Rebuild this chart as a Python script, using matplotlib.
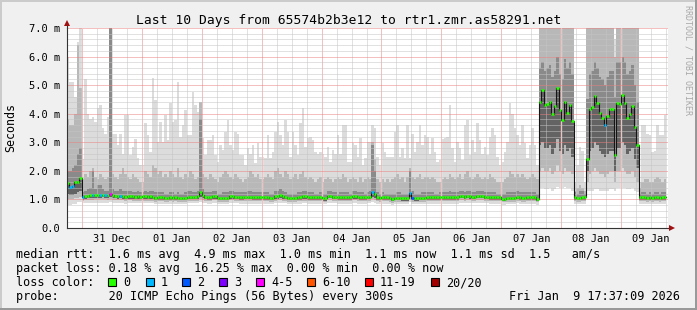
import numpy as np
import matplotlib
matplotlib.use("Agg")
import matplotlib.pyplot as plt
from matplotlib.patches import Rectangle
from matplotlib.transforms import ScaledTranslation

plt.rcParams['font.family'] = ['DejaVu Sans Mono']
plt.rcParams['lines.scale_dashes'] = False

# hourly rows, first row = Dec 30 18:00 (hour -6, hour 0 = Dec 31 00:00)
first_hour = -6

rtt_median = [
    1.56, 1.45, 1.47, 1.60, 1.62, 1.76,
    1.07, 1.12, 1.13, 1.14, 1.14, 1.15, 1.15, 1.15, 1.16, 1.15, 1.14, 1.18, 1.14, 1.13, 1.12, 1.13, 1.12, 1.08, 1.12, 1.12, 1.11, 1.10, 1.11, 1.10,
    1.11, 1.11, 1.10, 1.11, 1.10, 1.06, 1.08, 1.07, 1.07, 1.06, 1.05, 1.07, 1.06, 1.07, 1.06, 1.06, 1.05, 1.06, 1.10, 1.10, 1.10, 1.10, 1.11, 1.26,
    1.15, 1.10, 1.08, 1.08, 1.12, 1.12, 1.06, 1.06, 1.06, 1.06, 1.06, 1.12, 1.12, 1.10, 1.10, 1.08, 1.08, 1.09, 1.09, 1.09, 1.08, 1.08, 1.08, 1.08,
    1.08, 1.08, 1.08, 1.06, 1.06, 1.11, 1.12, 1.15, 1.11, 1.10, 1.06, 1.06, 1.06, 1.06, 1.08, 1.08, 1.11, 1.11, 1.07, 1.07, 1.07, 1.07, 1.07, 1.07,
    1.04, 1.04, 1.13, 1.13, 1.10, 1.10, 1.07, 1.07, 1.08, 1.08, 1.08, 1.08, 1.12, 1.12, 1.09, 1.08, 1.08, 1.08, 1.10, 1.10, 1.27, 1.18, 1.07, 1.06,
    1.07, 1.07, 1.07, 1.06, 1.02, 1.05, 1.06, 1.06, 1.04, 1.04, 1.04, 1.22, 1.06, 1.04, 1.04, 1.05, 1.06, 1.06, 1.07, 1.07, 1.07, 1.07, 1.07, 1.07,
    1.07, 1.08, 1.08, 1.08, 1.08, 1.08, 1.08, 1.13, 1.13, 1.10, 1.13, 1.12, 1.10, 1.10, 1.13, 1.13, 1.13, 1.10, 1.10, 1.08, 1.08, 1.08, 1.08, 1.08,
    1.03, 1.03, 1.05, 1.05, 1.05, 1.05, 1.10, 1.08, 1.06, 1.06, 1.07, 1.07, 1.07, 1.07, 1.03, 4.42, 4.83, 4.30, 4.34, 4.40, 3.99, 4.28, 4.89, 4.13,
    3.78, 4.42, 4.04, 4.30, 3.75, 1.07, 1.05, 1.05, 1.07, 1.07, 2.42, 4.16, 4.25, 4.63, 4.38, 4.03, 3.86, 3.62, 3.93, 4.16, 4.16, 2.56, 4.36, 4.34,
    4.66, 4.38, 3.86, 4.00, 4.28, 3.55, 2.90, 1.07, 1.07, 1.07, 1.06, 1.07, 1.05, 1.07, 1.07, 1.05, 1.07, 1.07,
]

rtt_max = [
    6.0, 5.1, 5.1, 4.6, 6.5, 7.5,
    2.4, 5.2, 4.0, 3.8, 3.9, 3.7, 4.2, 4.3, 3.5, 3.3, 3.9, 7.5, 3.3, 3.3, 2.9, 3.3, 2.6, 3.95, 3.95, 2.55, 2.85, 3.1, 2.44, 2.2,
    2.2, 3.66, 3.26, 2.67, 5.24, 4.48, 3.0, 3.72, 3.0, 3.95, 3.08, 4.36, 3.72, 3.78, 5.12, 3.2, 3.6, 4.13, 3.26, 3.26, 4.77, 4.3, 4.07, 4.19,
    3.14, 2.55, 3.08, 3.08, 3.26, 2.55, 2.32, 2.9, 2.73, 3.37, 3.78, 2.9, 2.73, 3.37, 3.3, 2.55, 2.55, 2.2, 2.8, 2.6, 2.9, 2.26, 2.96, 2.5,
    2.5, 2.44, 3.26, 2.44, 2.67, 3.37, 3.72, 3.26, 2.9, 3.78, 3.37, 2.5, 3.37, 2.9, 2.55, 3.66, 4.19, 2.85, 3.14, 3.2, 3.08, 2.67, 2.6, 2.67,
    2.6, 2.5, 2.85, 2.32, 2.73, 2.6, 3.26, 2.6, 3.6, 3.6, 2.32, 2.32, 2.96, 2.9, 2.5, 3.14, 2.2, 2.44, 3.0, 3.0, 3.6, 3.5, 2.5, 2.2,
    2.96, 2.67, 2.5, 2.5, 2.5, 3.37, 3.6, 2.5, 2.8, 2.44, 3.6, 2.44, 3.3, 2.67, 3.0, 3.6, 2.9, 3.26, 3.2, 2.6, 3.14, 2.67, 2.32, 2.38,
    3.1, 3.14, 3.2, 4.3, 2.8, 2.32, 3.0, 2.8, 2.38, 3.6, 3.78, 2.55, 3.08, 2.67, 3.66, 3.08, 2.6, 2.85, 2.55, 3.2, 3.5, 3.26, 2.5, 2.2,
    2.32, 2.67, 3.0, 4.36, 4.0, 3.5, 3.26, 2.9, 3.6, 2.96, 2.44, 2.9, 3.5, 2.9, 2.2, 7.5, 7.5, 7.5, 7.5, 7.5, 7.5, 7.5, 7.5, 7.5,
    7.5, 7.5, 7.5, 7.5, 7.5, 1.6, 2.2, 2.85, 2.7, 1.6, 7.5, 7.5, 7.5, 7.5, 7.5, 7.5, 7.5, 7.5, 7.5, 7.5, 7.5, 6.6, 7.5, 7.5,
    7.5, 7.5, 7.5, 7.5, 7.5, 7.5, 7.5, 1.6, 3.6, 3.6, 3.3, 3.26, 2.67, 2.7, 3.6, 3.26, 3.26, 3.95,
]

rtt_p90 = [
    3.8, 3.6, 3.6, 4.0, 6.4, 4.9,
    1.7, 1.9, 1.8, 2.0, 2.1, 1.8, 1.7, 1.9, 1.8, 1.7, 1.8, 7.5, 1.9, 1.8, 1.7, 1.9, 2.1, 1.9, 1.8, 1.7, 1.9, 1.8, 1.7, 1.6,
    1.6, 2.0, 1.9, 1.8, 2.2, 2.1, 1.9, 2.0, 1.8, 1.9, 1.8, 2.0, 1.9, 1.8, 2.1, 1.8, 1.7, 1.9, 1.8, 2.0, 1.9, 1.7, 1.8, 4.4,
    1.9, 1.8, 1.7, 1.9, 1.8, 1.7, 1.6, 1.8, 1.9, 2.0, 1.9, 1.8, 1.7, 1.9, 1.8, 1.7, 1.6, 1.7, 1.8, 2.0, 1.9, 1.8, 1.9, 1.7,
    1.7, 1.8, 1.9, 1.8, 1.7, 2.0, 2.1, 1.9, 1.8, 2.0, 1.9, 1.7, 1.8, 1.9, 1.7, 1.9, 2.0, 1.8, 1.7, 1.8, 1.7, 1.6, 1.7, 1.8,
    1.6, 1.7, 1.8, 1.7, 1.6, 1.7, 1.8, 1.7, 1.9, 1.8, 1.6, 1.7, 1.8, 1.7, 1.6, 1.8, 1.6, 1.7, 1.8, 1.7, 3.0, 2.4, 1.7, 1.6,
    1.7, 1.6, 1.7, 1.6, 1.7, 1.8, 1.9, 1.7, 1.8, 1.6, 1.8, 2.1, 1.8, 1.7, 1.8, 1.9, 1.7, 1.8, 1.8, 1.7, 1.8, 1.7, 1.6, 1.6,
    1.7, 1.8, 1.7, 1.9, 1.8, 1.7, 1.8, 1.9, 1.7, 1.9, 2.0, 1.8, 1.7, 1.8, 1.9, 1.8, 1.7, 1.8, 1.7, 1.9, 1.8, 1.7, 1.6, 1.6,
    1.6, 1.7, 1.8, 2.0, 1.9, 1.8, 1.9, 1.8, 1.9, 1.8, 1.7, 1.8, 1.9, 1.8, 1.7, 7.5, 7.5, 7.5, 7.5, 7.5, 7.5, 7.5, 7.5, 7.5,
    7.5, 7.5, 7.5, 7.5, 7.5, 1.3, 1.4, 1.5, 1.4, 1.3, 7.5, 7.5, 7.5, 7.5, 7.5, 7.5, 7.5, 7.5, 7.5, 7.5, 7.5, 6.0, 7.5, 7.5,
    7.5, 7.5, 7.5, 7.5, 7.5, 7.5, 7.5, 1.4, 1.6, 1.7, 1.7, 1.6, 1.6, 1.7, 1.8, 1.7, 1.6, 1.7,
]

rtt_p75 = [
    2.0, 2.0, 2.1, 2.2, 2.6, 2.8,
    1.25, 1.3, 1.35, 1.4, 2.0, 1.35, 1.5, 1.5, 1.35, 1.3, 1.3, 7.5, 1.35, 1.3, 1.3, 1.35, 1.3, 1.3, 1.3, 1.3, 1.25, 1.25, 1.3, 1.25,
    1.25, 1.3, 1.25, 1.3, 1.3, 1.25, 1.25, 1.25, 1.25, 1.2, 1.2, 1.25, 1.25, 1.2, 1.25, 1.2, 1.2, 1.25, 1.3, 1.3, 1.25, 1.25, 1.3, 3.8,
    1.35, 1.25, 1.25, 1.25, 1.3, 1.3, 1.2, 1.2, 1.25, 1.25, 1.25, 1.3, 1.3, 1.25, 1.25, 1.25, 1.25, 1.25, 1.3, 1.3, 1.25, 1.25, 1.25, 1.25,
    1.25, 1.25, 1.25, 1.2, 1.2, 1.3, 1.3, 1.35, 1.3, 1.25, 1.2, 1.2, 1.2, 1.2, 1.25, 1.25, 1.3, 1.3, 1.25, 1.25, 1.25, 1.2, 1.2, 1.25,
    1.2, 1.2, 1.3, 1.3, 1.25, 1.25, 1.2, 1.25, 1.25, 1.25, 1.25, 1.2, 1.3, 1.3, 1.25, 1.25, 1.25, 1.2, 1.25, 1.3, 2.9, 2.0, 1.25, 1.2,
    1.25, 1.2, 1.2, 1.2, 1.2, 1.2, 1.25, 1.25, 1.2, 1.2, 1.2, 2.0, 1.3, 1.2, 1.2, 1.2, 1.25, 1.25, 1.25, 1.25, 1.25, 1.2, 1.2, 1.25,
    1.25, 1.25, 1.25, 1.3, 1.25, 1.25, 1.25, 1.3, 1.3, 1.25, 1.3, 1.3, 1.25, 1.25, 1.3, 1.3, 1.3, 1.25, 1.25, 1.25, 1.25, 1.25, 1.2, 1.2,
    1.2, 1.2, 1.25, 1.25, 1.25, 1.25, 1.3, 1.25, 1.25, 1.25, 1.25, 1.25, 1.25, 1.25, 1.2, 5.6, 5.8, 5.5, 5.6, 5.7, 5.3, 5.5, 6.0, 5.4,
    5.2, 5.9, 5.6, 5.8, 5.4, 1.25, 1.2, 1.3, 1.3, 1.2, 4.5, 5.4, 5.5, 5.8, 5.6, 5.3, 5.2, 5.0, 5.3, 5.5, 5.5, 4.6, 5.8, 5.8,
    6.0, 5.8, 5.4, 5.5, 5.7, 5.0, 4.4, 1.2, 1.25, 1.25, 1.2, 1.25, 1.2, 1.25, 1.25, 1.2, 1.25, 1.25,
]

rtt_p25 = [
    1.2, 1.15, 1.15, 1.2, 1.25, 1.3,
    0.99, 1.03, 1.04, 1.05, 1.05, 1.06, 1.06, 1.06, 1.07, 1.06, 1.05, 1.08, 1.05, 1.04, 1.03, 1.04, 1.03, 1.0, 1.03, 1.03, 1.02, 1.01, 1.02, 1.01,
    1.02, 1.02, 1.01, 1.02, 1.01, 0.98, 0.99, 0.99, 0.99, 0.98, 0.97, 0.99, 0.98, 0.99, 0.98, 0.98, 0.97, 0.98, 1.01, 1.01, 1.01, 1.01, 1.02, 1.1,
    1.05, 1.01, 0.99, 0.99, 1.03, 1.03, 0.98, 0.98, 0.98, 0.98, 0.98, 1.03, 1.03, 1.01, 1.01, 0.99, 0.99, 1.0, 1.0, 1.0, 0.99, 0.99, 0.99, 0.99,
    0.99, 0.99, 0.99, 0.98, 0.98, 1.02, 1.03, 1.05, 1.02, 1.01, 0.98, 0.98, 0.98, 0.98, 0.99, 0.99, 1.02, 1.02, 0.99, 0.99, 0.99, 0.99, 0.99, 0.99,
    0.96, 0.96, 1.04, 1.04, 1.01, 1.01, 0.99, 0.99, 0.99, 0.99, 0.99, 0.99, 1.03, 1.03, 1.0, 0.99, 0.99, 0.99, 1.01, 1.01, 1.1, 1.05, 0.99, 0.98,
    0.99, 0.99, 0.99, 0.98, 0.95, 0.97, 0.98, 0.98, 0.96, 0.96, 0.96, 1.08, 0.98, 0.96, 0.96, 0.97, 0.98, 0.98, 0.99, 0.99, 0.99, 0.99, 0.99, 0.99,
    0.99, 0.99, 0.99, 0.99, 0.99, 0.99, 0.99, 1.04, 1.04, 1.01, 1.04, 1.03, 1.01, 1.01, 1.04, 1.04, 1.04, 1.01, 1.01, 0.99, 0.99, 0.99, 0.99, 0.99,
    0.95, 0.95, 0.97, 0.97, 0.97, 0.97, 1.01, 0.99, 0.98, 0.98, 0.99, 0.99, 0.99, 0.99, 0.95, 2.9, 3.0, 2.8, 2.8, 2.9, 2.6, 2.8, 3.1, 2.7,
    2.6, 2.9, 2.7, 2.8, 2.5, 0.99, 0.97, 0.97, 0.99, 0.99, 2.0, 2.7, 2.8, 3.0, 2.9, 2.7, 2.6, 2.5, 2.6, 2.7, 2.7, 2.0, 2.8, 2.8,
    3.0, 2.9, 2.6, 2.7, 2.8, 2.4, 2.1, 0.99, 0.99, 0.99, 0.98, 0.99, 0.97, 0.99, 0.99, 0.97, 0.99, 0.99,
]

rtt_p10 = [
    1.00, 1.00, 1.00, 1.05, 1.05, 1.10,
    0.94, 0.97, 0.98, 0.99, 0.99, 1.00, 1.00, 1.00, 1.01, 1.00, 0.99, 1.02, 0.99, 0.98, 0.97, 0.98, 0.97, 0.94, 0.97, 0.97, 0.96, 0.95, 0.96, 0.95,
    0.96, 0.96, 0.95, 0.96, 0.95, 0.92, 0.94, 0.93, 0.93, 0.92, 0.91, 0.93, 0.92, 0.93, 0.92, 0.92, 0.91, 0.92, 0.95, 0.95, 0.95, 0.95, 0.96, 1.02,
    0.99, 0.95, 0.94, 0.94, 0.97, 0.97, 0.92, 0.92, 0.92, 0.92, 0.92, 0.97, 0.97, 0.95, 0.95, 0.94, 0.94, 0.94, 0.94, 0.94, 0.94, 0.94, 0.94, 0.94,
    0.94, 0.94, 0.94, 0.92, 0.92, 0.96, 0.97, 0.99, 0.96, 0.95, 0.92, 0.92, 0.92, 0.92, 0.94, 0.94, 0.96, 0.96, 0.93, 0.93, 0.93, 0.93, 0.93, 0.93,
    0.90, 0.90, 0.98, 0.98, 0.95, 0.95, 0.93, 0.93, 0.94, 0.94, 0.94, 0.94, 0.97, 0.97, 0.95, 0.94, 0.94, 0.94, 0.95, 0.95, 1.02, 0.99, 0.93, 0.92,
    0.93, 0.93, 0.93, 0.92, 0.89, 0.91, 0.92, 0.92, 0.90, 0.90, 0.90, 1.00, 0.92, 0.90, 0.90, 0.91, 0.92, 0.92, 0.93, 0.93, 0.93, 0.93, 0.93, 0.93,
    0.93, 0.94, 0.94, 0.94, 0.94, 0.94, 0.94, 0.98, 0.98, 0.95, 0.98, 0.97, 0.95, 0.95, 0.98, 0.98, 0.98, 0.95, 0.95, 0.94, 0.94, 0.94, 0.94, 0.94,
    0.90, 0.90, 0.92, 0.92, 0.92, 0.92, 0.95, 0.94, 0.92, 0.92, 0.93, 0.93, 0.93, 0.93, 0.90, 2.00, 2.10, 2.00, 2.00, 2.10, 1.90, 2.00, 2.20, 2.00,
    1.90, 2.10, 2.00, 2.00, 1.90, 0.93, 0.92, 0.92, 0.93, 0.93, 1.60, 1.90, 2.00, 2.10, 2.00, 1.90, 1.90, 1.80, 1.90, 2.00, 2.00, 1.60, 2.00, 2.00,
    2.10, 2.00, 1.90, 1.90, 2.00, 1.80, 1.60, 0.93, 0.93, 0.93, 0.92, 0.93, 0.91, 0.93, 0.93, 0.91, 0.93, 0.93,
]

rtt_min = [
    0.80, 0.80, 0.85, 0.85, 0.90, 0.90,
    0.86, 0.88, 0.88, 0.89, 0.88, 0.89, 0.89, 0.88, 0.89, 0.88, 0.88, 0.90, 0.88, 0.88, 0.87, 0.88, 0.87, 0.85, 0.87, 0.87, 0.86, 0.86, 0.86, 0.86,
    0.86, 0.86, 0.86, 0.86, 0.86, 0.84, 0.85, 0.84, 0.84, 0.84, 0.83, 0.84, 0.84, 0.84, 0.84, 0.84, 0.83, 0.84, 0.86, 0.86, 0.86, 0.86, 0.86, 0.92,
    0.88, 0.86, 0.85, 0.85, 0.87, 0.87, 0.84, 0.84, 0.84, 0.84, 0.84, 0.87, 0.87, 0.86, 0.86, 0.85, 0.85, 0.85, 0.85, 0.85, 0.85, 0.85, 0.85, 0.85,
    0.85, 0.85, 0.85, 0.84, 0.84, 0.86, 0.87, 0.88, 0.86, 0.86, 0.84, 0.84, 0.84, 0.84, 0.85, 0.85, 0.86, 0.86, 0.85, 0.85, 0.85, 0.85, 0.85, 0.85,
    0.83, 0.83, 0.87, 0.87, 0.86, 0.86, 0.85, 0.85, 0.85, 0.85, 0.85, 0.85, 0.87, 0.87, 0.85, 0.85, 0.85, 0.85, 0.86, 0.86, 0.90, 0.88, 0.85, 0.84,
    0.85, 0.85, 0.85, 0.84, 0.82, 0.83, 0.84, 0.84, 0.83, 0.83, 0.83, 0.90, 0.84, 0.83, 0.83, 0.83, 0.84, 0.84, 0.85, 0.85, 0.85, 0.85, 0.85, 0.85,
    0.85, 0.85, 0.85, 0.85, 0.85, 0.85, 0.85, 0.87, 0.87, 0.86, 0.87, 0.87, 0.86, 0.86, 0.87, 0.87, 0.87, 0.86, 0.86, 0.85, 0.85, 0.85, 0.85, 0.85,
    0.82, 0.82, 0.84, 0.84, 0.84, 0.84, 0.86, 0.85, 0.84, 0.84, 0.85, 0.85, 0.85, 0.85, 0.82, 1.40, 1.40, 1.35, 1.35, 1.40, 1.30, 1.35, 1.45, 1.40,
    1.40, 1.45, 1.40, 1.40, 1.30, 0.85, 0.84, 0.84, 0.85, 0.85, 1.30, 1.30, 1.30, 1.35, 1.35, 1.30, 1.30, 1.30, 1.30, 1.35, 1.35, 1.30, 1.40, 1.40,
    1.40, 1.40, 1.35, 1.35, 1.40, 1.30, 1.25, 0.85, 0.85, 0.85, 0.84, 0.85, 0.83, 0.85, 0.85, 0.83, 0.85, 0.85,
]

# pings lost (out of 20) per hour, hour -> count
lost_pings = {-5: 1, -4: 1, 0: 1, 4: 1, 7: 1, 9: 1, 11: 4, 15: 1,
              116: 1, 131: 1, 132: 2, 209: 1}
gap_hours = [0, 24, 72, 96, 120, 144, 168, 192, 216]

day_labels = ['31 Dec', '01 Jan', '02 Jan', '03 Jan', '04 Jan',
              '05 Jan', '06 Jan', '07 Jan', '08 Jan', '09 Jan']
loss_names = ['0', '1', '2', '3', '4-5', '6-10', '11-19', '20/20']
loss_limits = [0, 1, 2, 3, 5, 10, 19, 20]
loss_colors = ['#26ff00', '#00b8ff', '#0059ff', '#7e00ff',
               '#ff00ff', '#ff5500', '#ff0000', '#a10000']

legend_lines = [
    'median rtt:  1.6 ms avg  4.9 ms max  1.0 ms min  1.1 ms now  1.1 ms sd  1.5   am/s',
    'packet loss: 0.18 % avg  16.25 % max  0.00 % min  0.00 % now',
    'loss color:',
    'probe:       20 ICMP Echo Pings (56 Bytes) every 300s',
]
stamp = 'Fri Jan  9 17:37:09 2026'

W, H = 697, 310
fig = plt.figure(figsize=(W / 100, H / 100), dpi=100, facecolor='#f0f0f0')
ax = fig.add_axes([67 / W, 1 - 228 / H, 601 / W, 200 / H])
ax.set_facecolor('white')

hours = first_hour + np.arange(len(rtt_median))
edges = np.append(hours, hours[-1] + 1)


def ext(a):
    a = np.asarray(a, float)
    return np.append(a, a[-1])


# smoke, outer to inner
ax.fill_between(edges, ext(rtt_min), ext(rtt_max), step='post', color='#dcdcdc', lw=0, zorder=1)
ax.fill_between(edges, ext(rtt_p10), ext(rtt_p90), step='post', color='#b8b8b8', lw=0, zorder=1.1)
ax.fill_between(edges, ext(rtt_p25), ext(rtt_p75), step='post', color='#8a8a8a', lw=0, zorder=1.2)
ax.fill_between(edges, ext(rtt_p25), ext(rtt_median), step='post', color='#636363', lw=0, zorder=1.3)
for g in gap_hours:
    ax.axvline(g, color='white', lw=0.9, zorder=1.5)

# median, coloured by loss
ax.step(edges, ext(rtt_median), where='post', color='#151515', lw=0.8, zorder=3)


def loss_color(n):
    for k, top in enumerate(loss_limits):
        if n <= top:
            return loss_colors[k]
    return loss_colors[-1]


seg_colors = [loss_color(lost_pings.get(h, 0)) for h in hours]
ax.hlines(rtt_median, hours, hours + 1, colors=seg_colors, lw=1.8, zorder=4, capstyle='butt')

# axes and grid (1px on / 1px off dots)
ax.set_xlim(-5.6, 234.8)
ax.set_ylim(0, 7)
ax.set_xticks(np.arange(0, 217, 24), labels=day_labels)
ax.set_xticks(np.arange(-6, 235, 6), minor=True)
ax.set_yticks(np.arange(0, 8), labels=['0.0'] + ['%.1f m' % v for v in range(1, 8)])
ax.set_yticks(np.arange(0, 7.01, 0.2), minor=True)
ax.grid(which='major', color='#e88080', ls=(0, (0.72, 0.72)), lw=0.72)
ax.grid(which='minor', color='#c4c4c4', ls=(0, (0.72, 0.72)), lw=0.72)
ax.set_axisbelow(False)
ax.tick_params(which='both', length=0, labelsize=7.5, colors='#000000')
ax.tick_params(axis='y', pad=5)
ax.tick_params(axis='x', pad=4.3)
shift = ScaledTranslation(0.30, 0, fig.dpi_scale_trans)
for lab in ax.get_xticklabels():
    lab.set_transform(lab.get_transform() + shift)

for s in ['top', 'right']:
    ax.spines[s].set_visible(False)
for s in ['left', 'bottom']:
    ax.spines[s].set_color('#333333')
    ax.spines[s].set_linewidth(0.8)
    ax.spines[s].set_zorder(5)
ax.plot([0, 0], [1, 1.02], transform=ax.transAxes, color='#333333', lw=0.8, clip_on=False, zorder=5)
ax.plot([1, 1.005], [0, 0], transform=ax.transAxes, color='#333333', lw=0.8, clip_on=False, zorder=5)
ax.plot([0], [1.024], marker='^', ms=4, color='#a01010', mew=0, transform=ax.transAxes, clip_on=False, zorder=6)
ax.plot([1.006], [0], marker='>', ms=4, color='#a01010', mew=0, transform=ax.transAxes, clip_on=False, zorder=6)

# frame
fig.add_artist(Rectangle((0, 1 - 2 / H), 1, 2 / H, transform=fig.transFigure, color='#cbcbcb', lw=0))
fig.add_artist(Rectangle((0, 0), 2 / W, 1, transform=fig.transFigure, color='#cbcbcb', lw=0))
fig.add_artist(Rectangle((0, 0), 1, 2 / H, transform=fig.transFigure, color='#999999', lw=0))
fig.add_artist(Rectangle((1 - 2 / W, 0), 2 / W, 1, transform=fig.transFigure, color='#999999', lw=0))


def put(x, y, s, size=8.5, **kw):
    fig.text(x / W, 1 - y / H, s, fontsize=size, va='baseline', **kw)


put(W / 2, 24, 'Last 10 Days from 65574b2b3e12 to rtr1.zmr.as58291.net', size=9.4, ha='center')
fig.text(11 / W, 1 - 128 / H, 'Seconds', fontsize=8.4, rotation=90, ha='center', va='center')
fig.text(688 / W, 1 - 60 / H, 'RRDTOOL / TOBI OETIKER', fontsize=6, rotation=270,
         ha='center', va='center', color='#a8a8a8')

for k, line in enumerate(legend_lines):
    put(16, 258 + 14 * k, line)
for x, name, col in zip([108, 146, 182, 219, 256, 307, 365, 431], loss_names, loss_colors):
    fig.add_artist(Rectangle((x / W, 1 - 286 / H), 8 / W, 8 / H, transform=fig.transFigure,
                             facecolor=col, edgecolor='black', lw=0.8))
    put(x + 15, 286, name)
put(680, 300, stamp, ha='right')

fig.savefig('out.png', dpi=100, facecolor=fig.get_facecolor())
